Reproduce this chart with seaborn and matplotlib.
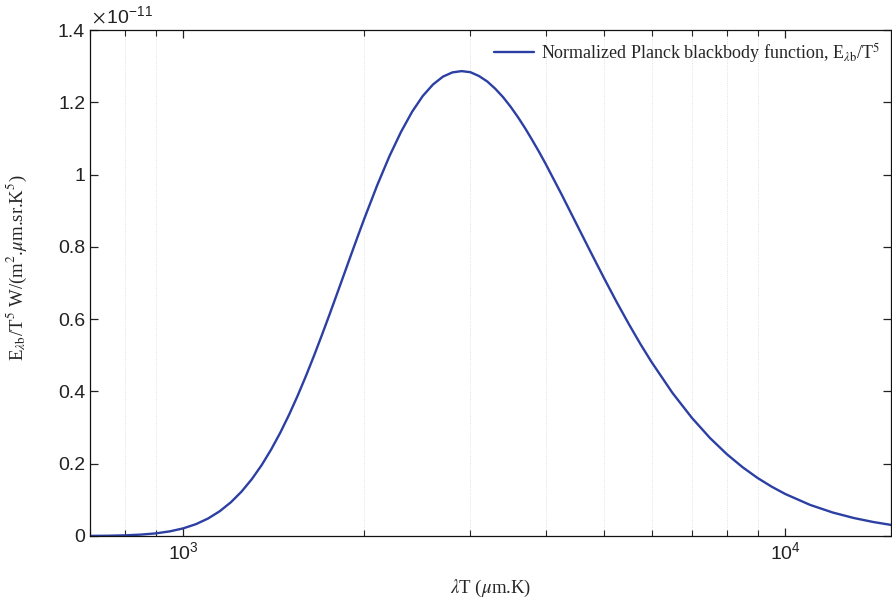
import numpy as np
import pandas as pd
import matplotlib
matplotlib.use('Agg')
import matplotlib.pyplot as plt
import matplotlib.ticker as mticker
import seaborn as sns

# lambda*T (um.K) and E_lambda_b / T^5 (x 1e-11)
lamT = [700, 750, 800, 850, 900, 950, 1000, 1050, 1100, 1150, 1200, 1250, 1300, 1350,
        1400, 1450, 1500, 1550, 1600, 1650, 1700, 1750, 1800, 1850, 1900, 1950, 2000,
        2100, 2200, 2300, 2400, 2500, 2600, 2700, 2800, 2900, 3000, 3100, 3200, 3300,
        3400, 3500, 3600, 3700, 3800, 3900, 4000, 4250, 4500, 4750, 5000, 5250, 5500,
        5750, 6000, 6500, 7000, 7500, 8000, 8500, 9000, 9500, 10000, 11000, 12000,
        13000, 14000, 15000]
ebT5 = [0.0003, 0.0007, 0.0018, 0.0038, 0.0072, 0.0128, 0.0211, 0.0328, 0.0485, 0.0686,
        0.0933, 0.1229, 0.1573, 0.1962, 0.2395, 0.2863, 0.3364, 0.3891, 0.4438, 0.4997,
        0.5563, 0.6128, 0.6690, 0.7240, 0.7777, 0.8294, 0.8789, 0.9703, 1.0503, 1.1178,
        1.1737, 1.2174, 1.2493, 1.2709, 1.2827, 1.2863, 1.2833, 1.2727, 1.2576, 1.2374,
        1.2141, 1.1874, 1.1585, 1.1278, 1.0956, 1.0632, 1.0299, 0.9458, 0.8638, 0.7864,
        0.7140, 0.6471, 0.5863, 0.5309, 0.4812, 0.3957, 0.3269, 0.2713, 0.2265, 0.1902,
        0.1605, 0.1364, 0.1164, 0.0861, 0.0649, 0.0498, 0.0388, 0.0306]
yticks = [0, 0.2, 0.4, 0.6, 0.8, 1, 1.2, 1.4]
ylabels = ['0', '0.2', '0.4', '0.6', '0.8', '1', '1.2', '1.4']

df = pd.DataFrame({'lamT': lamT, 'E': ebT5})

sns.set_style('ticks')
plt.rcParams['font.family'] = ['Liberation Sans', 'DejaVu Sans']
plt.rcParams['mathtext.fontset'] = 'stix'

fig = plt.figure(figsize=(8.92, 5.98), dpi=100)
ax = fig.add_axes([0.1009, 0.1037, 0.8981, 0.8461])

sns.lineplot(data=df, x='lamT', y='E', color='#2c3fa3', linewidth=1.7,
             label=r'Normalized Planck blackbody function, E$_{\lambda \mathrm{b}}$/T$^5$', ax=ax)

ax.set_xscale('log')
ax.set_xlim(700, 15000)
ax.set_ylim(0, 1.4)
ax.set_yticks(yticks)
ax.set_yticklabels(ylabels)
ax.xaxis.set_minor_formatter(mticker.NullFormatter())

ax.grid(True, which='minor', axis='x', linestyle=':', color='#d8d8d8', linewidth=0.6)
ax.tick_params(axis='both', which='major', direction='in', length=6, width=0.9,
               labelsize=14, top=True, right=True, colors='#222222')
ax.tick_params(axis='x', which='minor', direction='in', length=4, width=0.8, top=True)
for s in ax.spines.values():
    s.set_linewidth(0.9)
    s.set_color('#111111')

ax.set_xlabel(r'$\lambda$T ($\mu$m.K)', family='Liberation Serif', fontsize=13.5, va='top')
ax.xaxis.set_label_coords(0.5, -0.082)
ax.set_ylabel(r'E$_{\lambda \mathrm{b}}$/T$^5$ W/(m$^2$.$\mu$m.sr.K$^5$)',
              family='Liberation Serif', fontsize=13.5)
ax.yaxis.set_label_coords(-0.076, 0.53)

ax.text(0.002, 1.006, r'$\times\,\mathdefault{10^{-11}}$', transform=ax.transAxes,
        ha='left', va='bottom', fontsize=14, color='#222222')

leg = ax.legend(loc='upper right', frameon=False, handlelength=2.2, handletextpad=0.4,
                prop={'family': 'Liberation Serif', 'size': 13}, borderaxespad=0.2)

fig.savefig('out.png', dpi=100)
